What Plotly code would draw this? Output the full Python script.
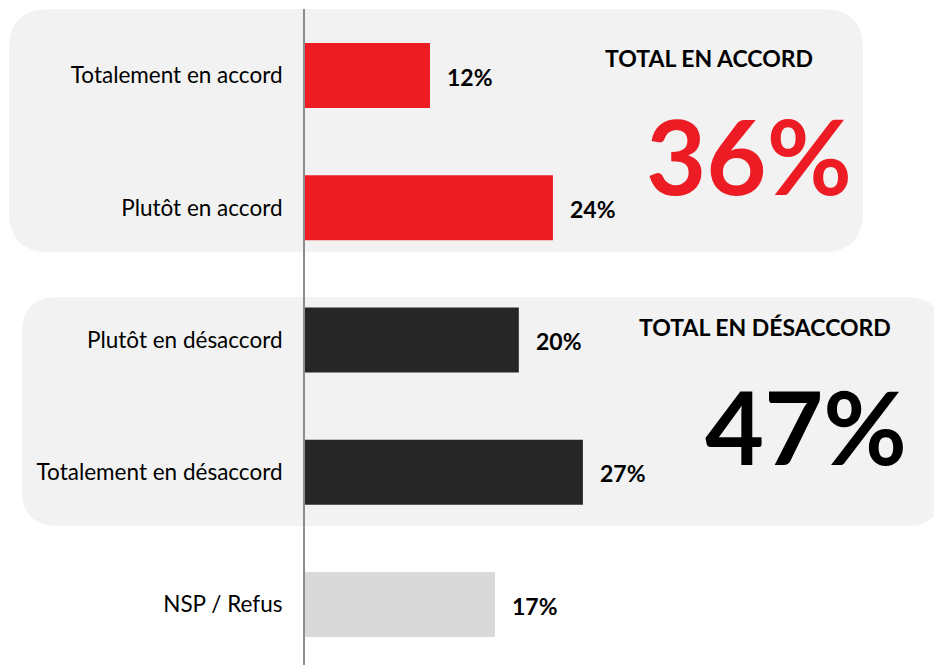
import plotly.graph_objects as go

categories = ["Totalement en accord", "Plutôt en accord", "Plutôt en désaccord",
              "Totalement en désaccord", "NSP / Refus"]
bar_values = [12.1, 24.0, 20.7, 26.9, 18.4]   # bar lengths as drawn
label_values = [12, 24, 20, 27, 17]            # printed (rounded) percentages
group_titles = ["TOTAL EN ACCORD", "TOTAL EN DÉSACCORD"]

bar_colors = ["#ED1C24", "#ED1C24", "#262626", "#262626", "#D9D9D9"]

OFF = 8  # page body margin
W, H = 942 - OFF, 665 - OFF
ML, MR, MT, MB = 305 - OFF, 0, 9 - OFF, 0
PW, PH = W - ML - MR, H - MT - MB
PX_PER_UNIT = 10.33
ROW_PX = 132.25
FIRST_ROW_PX = 75.5 - OFF
FONT = "Lato"


def px(p):
    return (p - OFF - ML) / PW


def py(p):
    return 1 - (p - OFF - MT) / PH


def rounded_rect(x0, y0, x1, y1, r):
    rx, ry = r / PW, r / PH
    X0, X1 = px(x0), px(x1)
    Y0, Y1 = py(y0), py(y1)
    return (f"M {X0+rx},{Y0} L {X1-rx},{Y0} Q {X1},{Y0} {X1},{Y0-ry} "
            f"L {X1},{Y1+ry} Q {X1},{Y1} {X1-rx},{Y1} "
            f"L {X0+rx},{Y1} Q {X0},{Y1} {X0},{Y1+ry} "
            f"L {X0},{Y0-ry} Q {X0},{Y0} {X0+rx},{Y0} Z")


ypos = list(range(len(categories)))

fig = go.Figure()
fig.add_trace(go.Bar(
    x=bar_values, y=ypos, orientation="h",
    marker=dict(color=bar_colors, line=dict(width=0)),
    width=0.49, hoverinfo="skip",
))

annotations = []
for v, yv, lab in zip(bar_values, ypos, label_values):
    annotations.append(dict(
        x=v, y=yv, xref="x", yref="y", text=f"<b>{lab}%</b>", showarrow=False,
        xanchor="left", yanchor="middle", xshift=15, yshift=-1,
        font=dict(family=FONT, size=23, color="#000000")))

total_agree = label_values[0] + label_values[1]
total_disagree = label_values[2] + label_values[3]

annotations += [
    dict(x=px(709), y=py(58), xref="paper", yref="paper", text=f"<b>{group_titles[0]}</b>",
         showarrow=False, xanchor="center", yanchor="middle",
         font=dict(family=FONT, size=23, color="#000000")),
    dict(x=px(749), y=py(154), xref="paper", yref="paper", text=f"<b>{total_agree}%</b>",
         showarrow=False, xanchor="center", yanchor="middle",
         font=dict(family=FONT, size=104, color="#ED1C24")),
    dict(x=px(765), y=py(327), xref="paper", yref="paper", text=f"<b>{group_titles[1]}</b>",
         showarrow=False, xanchor="center", yanchor="middle",
         font=dict(family=FONT, size=23, color="#000000")),
    dict(x=px(806), y=py(425), xref="paper", yref="paper", text=f"<b>{total_disagree}%</b>",
         showarrow=False, xanchor="center", yanchor="middle",
         font=dict(family=FONT, size=102, color="#000000")),
]

shapes = [
    dict(type="path", xref="paper", yref="paper", path=rounded_rect(9, 9, 863, 252, 40),
         fillcolor="#F2F2F2", line=dict(width=0), layer="below"),
    dict(type="path", xref="paper", yref="paper", path=rounded_rect(22, 297, 942, 526, 36),
         fillcolor="#F2F2F2", line=dict(width=0), layer="below"),
]

x_max = PW / PX_PER_UNIT
y_top = -(FIRST_ROW_PX - MT) / ROW_PX
y_bot = (H - FIRST_ROW_PX) / ROW_PX

fig.update_layout(
    width=W, height=H,
    margin=dict(l=ML, r=MR, t=MT, b=MB, pad=0),
    paper_bgcolor="#FFFFFF", plot_bgcolor="rgba(0,0,0,0)",
    showlegend=False,
    annotations=annotations, shapes=shapes,
    xaxis=dict(range=[0, x_max], visible=False, fixedrange=True),
    yaxis=dict(range=[y_bot, y_top], tickvals=ypos, ticktext=categories,
               showline=True, linecolor="#8C8C8C", linewidth=2,
               showgrid=False, zeroline=False, ticks="", ticklabelstandoff=16,
               tickfont=dict(family=FONT, size=22.5, color="#000000"), fixedrange=True),
)

fig.write_html("out.html", config={"displayModeBar": False})
